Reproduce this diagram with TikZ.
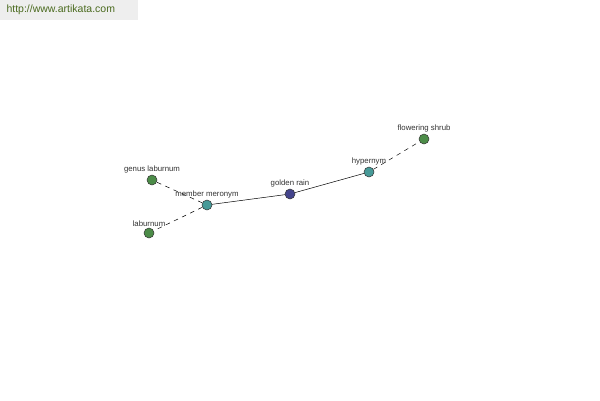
\documentclass[tikz,border=0pt]{standalone}
\usepackage{fontspec}
\setmainfont{Liberation Sans}
\usetikzlibrary{positioning}

\begin{document}
\begin{tikzpicture}[x=1pt, y=-1pt, font=\fontsize{7.8}{9}\selectfont]

\definecolor{wnleaf}{HTML}{4C8C48}
\definecolor{wnrel}{HTML}{479A98}
\definecolor{wnhead}{HTML}{44448C}
\definecolor{wntext}{HTML}{333333}
\definecolor{wnbanner}{HTML}{EEEEEE}
\definecolor{wnlink}{HTML}{4A6A1E}

\tikzset{
  word/.style={
    circle, draw=black!80, line width=0.5pt, minimum size=10pt, inner sep=0pt,
    label={[text=wntext, inner sep=1pt, label distance=0pt]above:#1}
  },
  leaf/.style={word=#1, fill=wnleaf},
  relation/.style={word=#1, fill=wnrel},
  headword/.style={word=#1, fill=wnhead},
  solidedge/.style={draw=black, line width=0.5pt},
  dashedge/.style={draw=black, line width=0.5pt, dash pattern=on 4.5pt off 4.5pt}
}

% page frame
\useasboundingbox (0,0) rectangle (600,400);
\fill[white] (0,0) rectangle (600,400);

% site banner
\fill[wnbanner] (0,0) rectangle (138,20);
\node[anchor=west, text=wnlink, font=\fontsize{10.5}{12}\selectfont] (site) at (3,10)
  {http://www.artikata.com};

% the word and its relations
\node[headword={golden rain}]      (golden)   at (290,194) {};
\node[relation={member meronym}]   (meronym)  at (207,205) {};
\node[relation={hypernym}]         (hypernym) at (369,172) {};
\node[leaf={genus laburnum}]       (genus)    at (152,180) {};
\node[leaf={laburnum}]             (laburnum) at (149,233) {};
\node[leaf={flowering shrub}]      (shrub)    at (424,139) {};

% links
\foreach \from/\to in {golden/meronym, golden/hypernym}
  \draw[solidedge] (\from) -- (\to);
\foreach \from/\to in {meronym/genus, meronym/laburnum, hypernym/shrub}
  \draw[dashedge] (\from) -- (\to);

\end{tikzpicture}
\end{document}
